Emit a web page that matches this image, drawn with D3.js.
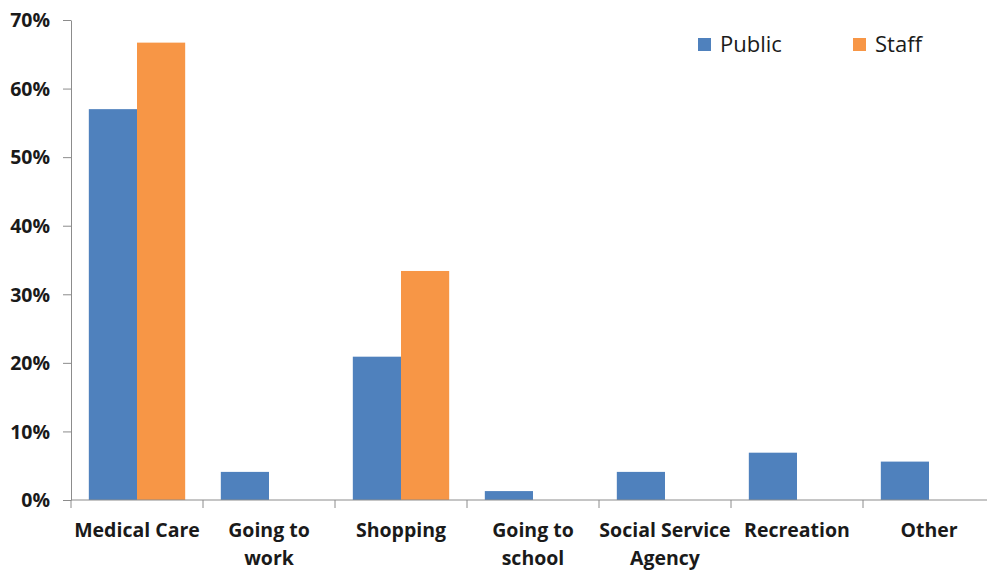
<!DOCTYPE html>
<html>
<head>
<meta charset="utf-8">
<script src="https://cdn.jsdelivr.net/npm/d3@7"></script>
<style>
  html, body { margin: 0; padding: 0; background: #fff; }
  svg { display: block; }
</style>
</head>
<body>
<svg id="chart" width="987" height="572"></svg>
<script>
// Trip purpose shares by respondent group
const categories = ["Medical Care", "Going to work", "Shopping", "Going to school", "Social Service Agency", "Recreation", "Other"];
const categoryLines = [["Medical Care"], ["Going to", "work"], ["Shopping"], ["Going to", "school"], ["Social Service", "Agency"], ["Recreation"], ["Other"]];
const seriesNames = ["Public", "Staff"];
const publicValues = [57.0, 4.1, 20.9, 1.3, 4.1, 6.9, 5.6];
const staffValues = [66.7, 0, 33.4, 0, 0, 0, 0];
const yTicks = [0, 10, 20, 30, 40, 50, 60, 70];
const colors = ["#4F81BD", "#F79646"];

const svg = d3.select("#chart");
const plotLeft = 71, plotTop = 20, plotBottom = 500, bandW = 132;
const plotRight = plotLeft + bandW * categories.length;

const x = d3.scaleBand().domain(categories).range([plotLeft, plotRight]).paddingInner(0.27).paddingOuter(0.135);
const x1 = d3.scaleBand().domain(seriesNames).range([0, x.bandwidth()]);
const y = d3.scaleLinear().domain([0, 70]).range([plotBottom, plotTop]);

const font = "'Open Sans', Lato, sans-serif";
const axisColor = "#8c8c8c";

// Bars
const rows = categories.map((c, i) => ({ c, vals: [publicValues[i], staffValues[i]] }));
const g = svg.append("g").selectAll("g").data(rows).join("g")
  .attr("transform", d => `translate(${x(d.c)},0)`);
g.selectAll("rect").data(d => d.vals.map((v, k) => ({ v, k })).filter(e => e.v > 0)).join("rect")
  .attr("x", e => x1(seriesNames[e.k]))
  .attr("width", x1.bandwidth())
  .attr("y", e => y(e.v))
  .attr("height", e => plotBottom - y(e.v))
  .attr("fill", e => colors[e.k]);

// Y axis
const yAxis = svg.append("g").attr("transform", `translate(${plotLeft},0)`)
  .call(d3.axisLeft(y).tickValues(yTicks).tickFormat(d => d + "%").tickSize(8).tickSizeOuter(0));
yAxis.select(".domain").attr("stroke", axisColor);
yAxis.selectAll(".tick line").attr("stroke", axisColor);
yAxis.selectAll(".tick text").attr("x", -21).attr("font-family", font).attr("font-weight", 700)
  .attr("font-size", 19.5).attr("fill", "#1a1a1a").attr("dy", "0.35em");

// X axis with ticks at category boundaries
const xAxisG = svg.append("g");
xAxisG.append("line").attr("x1", plotLeft).attr("x2", 987).attr("y1", plotBottom).attr("y2", plotBottom).attr("stroke", axisColor);
const bounds = d3.range(categories.length + 1).map(i => plotLeft + i * bandW);
xAxisG.selectAll("line.tk").data(bounds).join("line").attr("class", "tk")
  .attr("x1", d => d).attr("x2", d => d).attr("y1", plotBottom).attr("y2", plotBottom + 8).attr("stroke", axisColor);

const labels = svg.append("g").selectAll("text").data(categories).join("text")
  .attr("x", c => x(c) + x.bandwidth() / 2)
  .attr("y", 537)
  .attr("text-anchor", "middle")
  .attr("font-family", font).attr("font-weight", 700).attr("font-size", 19.5).attr("fill", "#1a1a1a");
labels.each(function (c, i) {
  d3.select(this).selectAll("tspan").data(categoryLines[i]).join("tspan")
    .attr("x", x(c) + x.bandwidth() / 2)
    .attr("dy", (d, j) => j === 0 ? 0 : 28)
    .text(d => d);
});

// Legend
const legend = svg.append("g").selectAll("g").data(seriesNames).join("g")
  .attr("transform", (d, i) => `translate(${698 + i * 155},38)`);
legend.append("rect").attr("width", 13).attr("height", 13).attr("fill", (d, i) => colors[i]);
legend.append("text").attr("x", 22).attr("y", 14).attr("font-family", font).attr("font-size", 22)
  .attr("fill", "#1a1a1a").text(d => d);
</script>
</body>
</html>
